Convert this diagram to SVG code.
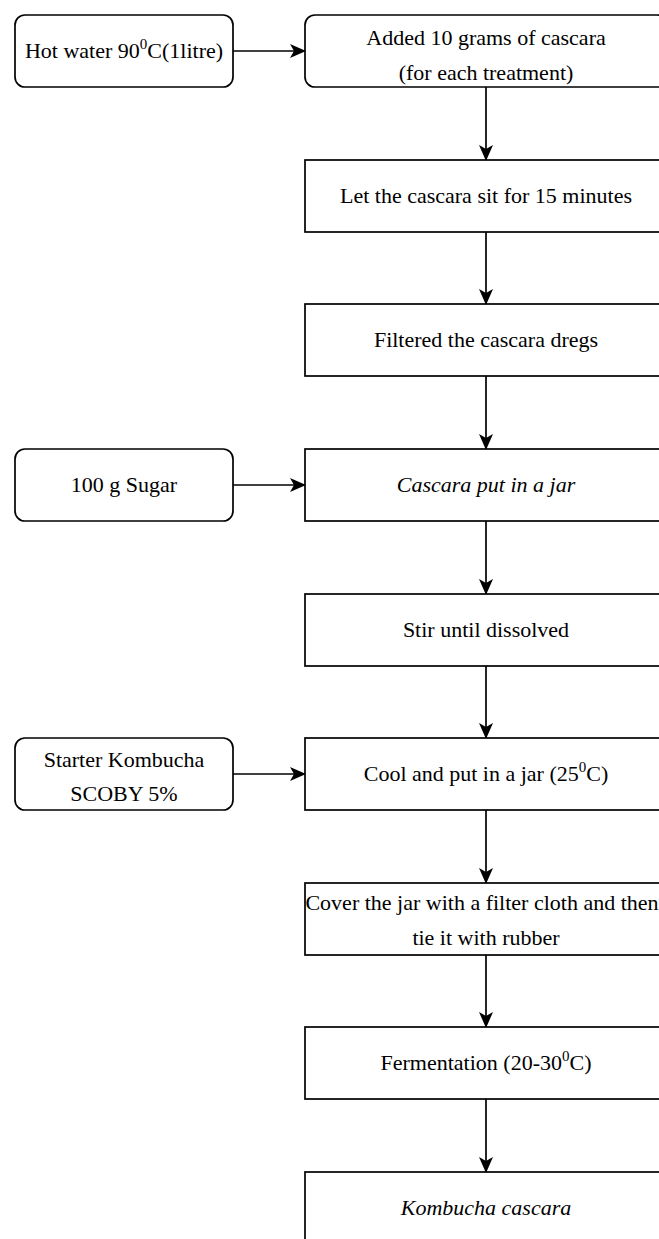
<svg xmlns="http://www.w3.org/2000/svg" width="659" height="1239" viewBox="0 0 659 1239">
<style>
.box{fill:#fff;stroke:#000;stroke-width:1.7}
.t{font-family:"Liberation Serif","Times New Roman",serif;font-size:22px;fill:#000;text-anchor:middle}
.i{font-style:italic}
.sup{font-size:15px}
.c{stroke:#000;stroke-width:1.7;fill:none;marker-end:url(#ah)}
</style>
<defs>
<marker id="ah" markerWidth="16" markerHeight="14" refX="15" refY="7" orient="auto" markerUnits="userSpaceOnUse">
<path d="M0,0 L16,7 L0,14 L4,7 Z" fill="#000"/>
</marker>
</defs>
<rect width="659" height="1239" fill="#fff"/>
<g id="connectors">
<line class="c" x1="233" y1="51" x2="305" y2="51"/>
<line class="c" x1="486" y1="87" x2="486" y2="160"/>
<line class="c" x1="486" y1="232" x2="486" y2="304"/>
<line class="c" x1="486" y1="376" x2="486" y2="449"/>
<line class="c" x1="233" y1="485" x2="305" y2="485"/>
<line class="c" x1="486" y1="521" x2="486" y2="594"/>
<line class="c" x1="486" y1="666" x2="486" y2="738"/>
<line class="c" x1="233" y1="774" x2="305" y2="774"/>
<line class="c" x1="486" y1="810" x2="486" y2="883"/>
<line class="c" x1="486" y1="955" x2="486" y2="1027"/>
<line class="c" x1="486" y1="1099" x2="486" y2="1172"/>
</g>
<g id="hotwater">
<rect class="box" x="15" y="15" width="218" height="72" rx="10"/>
<text class="t" x="124" y="58">Hot water 90<tspan class="sup" dy="-9">0</tspan><tspan dy="9">C(1litre)</tspan></text>
</g>
<g id="added">
<rect class="box" x="305" y="15" width="362" height="72" rx="10"/>
<text class="t" x="486" y="45">Added 10 grams of cascara</text>
<text class="t" x="486" y="80">(for each treatment)</text>
</g>
<g id="sit">
<rect class="box" x="305" y="160" width="362" height="72"/>
<text class="t" x="486" y="203">Let the cascara sit for 15 minutes</text>
</g>
<g id="filtered">
<rect class="box" x="305" y="304" width="362" height="72"/>
<text class="t" x="486" y="347">Filtered the cascara dregs</text>
</g>
<g id="sugar">
<rect class="box" x="15" y="449" width="218" height="72" rx="10"/>
<text class="t" x="124" y="492">100 g Sugar</text>
</g>
<g id="jar">
<rect class="box" x="305" y="449" width="362" height="72"/>
<text class="t i" x="486" y="492">Cascara put in a jar</text>
</g>
<g id="stir">
<rect class="box" x="305" y="594" width="362" height="72"/>
<text class="t" x="486" y="637">Stir until dissolved</text>
</g>
<g id="starter">
<rect class="box" x="15" y="738" width="218" height="72" rx="10"/>
<text class="t" x="124" y="767">Starter Kombucha</text>
<text class="t" x="124" y="801">SCOBY 5%</text>
</g>
<g id="cool">
<rect class="box" x="305" y="738" width="362" height="72"/>
<text class="t" x="486" y="781">Cool and put in a jar (25<tspan class="sup" dy="-9">0</tspan><tspan dy="9">C)</tspan></text>
</g>
<g id="cover">
<rect class="box" x="305" y="883" width="362" height="72"/>
<text class="t" x="482" y="910">Cover the jar with a filter cloth and then</text>
<text class="t" x="486" y="945">tie it with rubber</text>
</g>
<g id="fermentation">
<rect class="box" x="305" y="1027" width="362" height="72"/>
<text class="t" x="486" y="1070">Fermentation (20-30<tspan class="sup" dy="-9">0</tspan><tspan dy="9">C)</tspan></text>
</g>
<g id="kombucha">
<rect class="box" x="305" y="1172" width="362" height="72"/>
<text class="t i" x="486" y="1215">Kombucha cascara</text>
</g>
</svg>
